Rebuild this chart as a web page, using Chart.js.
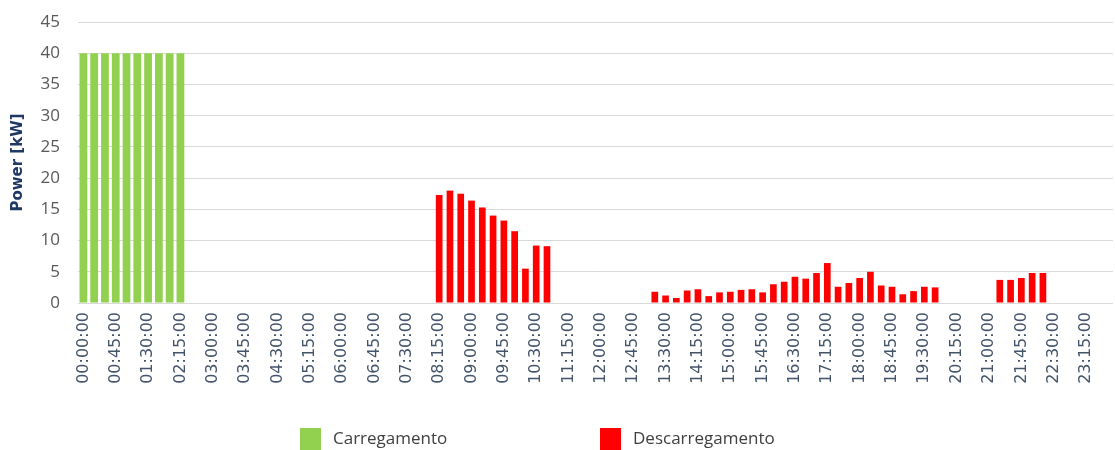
<!DOCTYPE html>
<html lang="pt">
<head>
<meta charset="utf-8">
<title>Power profile</title>
<script src="https://cdn.jsdelivr.net/npm/chart.js@4.4.1/dist/chart.umd.min.js"></script>
<style>
  html, body { margin: 0; padding: 0; background: #fff; }
  #wrap { width: 1115px; height: 450px; position: relative; }
</style>
</head>
<body>
<div id="wrap"><canvas id="powerChart"></canvas></div>
<script>
// quarter-hour slots, 00:00:00 .. 23:45:00
var timeLabels = [];
for (var h = 0; h < 24; h++) {
  for (var m = 0; m < 60; m += 15) {
    timeLabels.push((h < 10 ? '0' : '') + h + ':' + (m < 10 ? '0' : '') + m + ':00');
  }
}

var seriesNames = ['Carregamento', 'Descarregamento'];

// charging power [kW], 12 slots per row (3 h)
var charging = [
  40, 40, 40, 40, 40, 40, 40, 40, 40, 40, 0, 0,
  0, 0, 0, 0, 0, 0, 0, 0, 0, 0, 0, 0,
  0, 0, 0, 0, 0, 0, 0, 0, 0, 0, 0, 0,
  0, 0, 0, 0, 0, 0, 0, 0, 0, 0, 0, 0,
  0, 0, 0, 0, 0, 0, 0, 0, 0, 0, 0, 0,
  0, 0, 0, 0, 0, 0, 0, 0, 0, 0, 0, 0,
  0, 0, 0, 0, 0, 0, 0, 0, 0, 0, 0, 0,
  0, 0, 0, 0, 0, 0, 0, 0, 0, 0, 0, 0
];

// discharging power [kW]
var discharging = [
  0, 0, 0, 0, 0, 0, 0, 0, 0, 0, 0, 0,
  0, 0, 0, 0, 0, 0, 0, 0, 0, 0, 0, 0,
  0, 0, 0, 0, 0, 0, 0, 0, 0, 17.3, 18.0, 17.5,
  16.4, 15.3, 14.0, 13.2, 11.5, 5.5, 9.2, 9.1, 0, 0, 0, 0,
  0, 0, 0, 0, 0, 1.8, 1.2, 0.8, 2.0, 2.2, 1.1, 1.7,
  1.8, 2.1, 2.2, 1.7, 3.0, 3.4, 4.2, 3.9, 4.8, 6.4, 2.6, 3.2,
  4.0, 5.0, 2.8, 2.6, 1.4, 1.9, 2.6, 2.5, 0, 0, 0, 0,
  0, 3.7, 3.7, 4.0, 4.8, 4.8, 0, 0, 0, 0, 0, 0
];

var yTicks = [0, 5, 10, 15, 20, 25, 30, 35, 40, 45];

var green = '#92D050';
var red = '#FF0000';

// legend drawn below the rotated time labels, items spread wide apart
var bottomLegend = {
  id: 'bottomLegend',
  afterDraw: function (chart) {
    var ctx = chart.ctx;
    var x = 300, y = 428, step = 300;
    ctx.save();
    ctx.font = '17px "Open Sans"';
    ctx.textBaseline = 'middle';
    ctx.textAlign = 'left';
    chart.data.datasets.forEach(function (ds, i) {
      var bx = x + i * step;
      ctx.fillStyle = ds.backgroundColor;
      ctx.fillRect(bx, y, 21, 22);
      ctx.fillStyle = '#404040';
      ctx.fillText(ds.label, bx + 33, y + 11);
    });
    ctx.restore();
  }
};

var ctx = document.getElementById('powerChart');
var powerChart = new Chart(ctx, {
  type: 'bar',
  data: {
    labels: timeLabels,
    datasets: [{
      label: seriesNames[0],
      data: charging,
      backgroundColor: green,
      borderWidth: 0,
      barPercentage: 0.72,
      categoryPercentage: 1
    }, {
      label: seriesNames[1],
      data: discharging,
      backgroundColor: red,
      borderWidth: 0,
      barPercentage: 0.62,
      categoryPercentage: 1
    }]
  },
  plugins: [bottomLegend],
  options: {
    responsive: true,
    maintainAspectRatio: false,
    animation: false,
    layout: { padding: { top: 22, right: 2, bottom: 0, left: 0 } },
    plugins: {
      legend: { display: false },
      tooltip: { enabled: false }
    },
    scales: {
      x: {
        stacked: true,
        grid: { display: false, drawTicks: false },
        border: { display: false },
        ticks: {
          autoSkip: false,
          minRotation: 90,
          maxRotation: 90,
          padding: 9,
          color: '#44546A',
          font: { family: 'DejaVu Sans', size: 16 },
          callback: function (val, index) {
            return index % 3 === 0 ? this.getLabelForValue(val) : '';
          }
        },
        afterFit: function (scale) {
          scale.height = 147;
          scale.paddingRight = 0;
          scale.paddingLeft = 0;
        }
      },
      y: {
        stacked: true,
        min: 0,
        max: 45,
        afterBuildTicks: function (scale) {
          scale.ticks = yTicks.map(function (v) { return { value: v }; });
        },
        grid: { color: '#D9D9D9', lineWidth: 1, drawTicks: false },
        border: { display: false },
        ticks: {
          padding: 18,
          color: '#595959',
          font: { family: 'Open Sans', size: 17 }
        },
        title: {
          display: true,
          text: 'Power [kW]',
          color: '#1F3864',
          font: { family: 'DejaVu Sans', size: 15, weight: 'bold' },
          padding: { top: 9, bottom: 0 }
        },
        afterFit: function (scale) {
          scale.width = 78;
          scale.paddingTop = 0;
          scale.paddingBottom = 0;
        }
      }
    }
  }
});
</script>
</body>
</html>
